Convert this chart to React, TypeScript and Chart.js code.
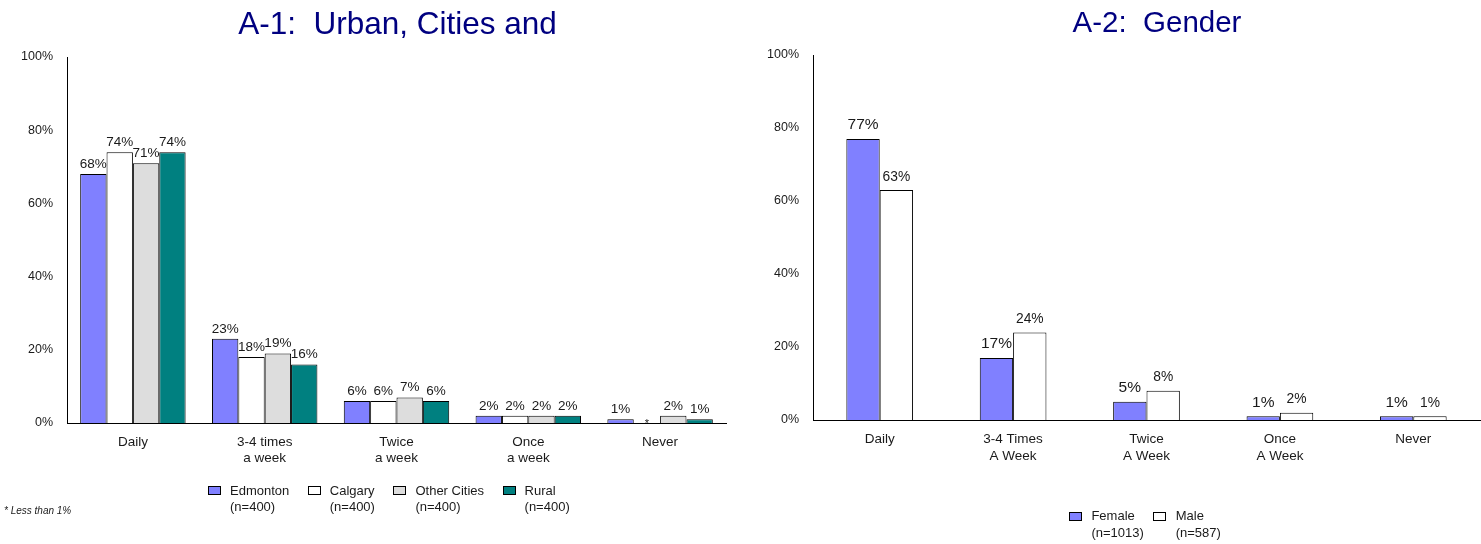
import React, { useEffect, useRef } from 'react';
import { Chart, registerables } from 'chart.js';

Chart.register(...registerables);

const FONT = '"Liberation Sans", Arial, Helvetica, sans-serif';
const TEXT = '#1a1a1a';

// ---------- A-1 data ----------
const A1_TITLE = 'A-1:  Urban, Cities and';
const A1_CATEGORIES = [['Daily'], ['3-4 times', 'a week'], ['Twice', 'a week'], ['Once', 'a week'], ['Never']];
const A1_SERIES = ['Edmonton', 'Calgary', 'Other Cities', 'Rural'];
const A1_SAMPLES = ['(n=400)', '(n=400)', '(n=400)', '(n=400)'];
const EDMONTON = [68, 23, 6, 2, 1];
const CALGARY = [74, 18, 6, 2, 0];
const CALGARY_LABELS = ['74%', '18%', '6%', '2%', '*'];
const OTHER_CITIES = [71, 19, 7, 2, 2];
const RURAL = [74, 16, 6, 2, 1];
const A1_FOOTNOTE = '* Less than 1%';

// ---------- A-2 data ----------
const A2_TITLE = 'A-2:  Gender';
const A2_CATEGORIES = [['Daily'], ['3-4 Times', 'A Week'], ['Twice', 'A Week'], ['Once', 'A Week'], ['Never']];
const A2_SERIES = ['Female', 'Male'];
const A2_SAMPLES = ['(n=1013)', '(n=587)'];
const FEMALE = [77, 17, 5, 1, 1];
const MALE = [63, 24, 8, 2, 1];

const Y_MIN = 0;
const Y_MAX = 100;
const Y_STEP = 20;

const COLORS = {
  blue: '#8080FF',
  white: '#FFFFFF',
  gray: '#DDDDDD',
  teal: '#008080',
};

const fixedTitle = {
  id: 'fixedTitle',
  afterDraw(chart: any, _a: any, opts: any) {
    const ctx = chart.ctx;
    ctx.save();
    ctx.font = `${opts.size}px ${FONT}`;
    ctx.fillStyle = '#000080';
    ctx.textAlign = 'center';
    ctx.textBaseline = 'alphabetic';
    ctx.fillText(opts.text, opts.x, opts.y);
    ctx.restore();
  },
};

const valueLabels = {
  id: 'valueLabels',
  afterDatasetsDraw(chart: any) {
    const ctx = chart.ctx;
    chart.data.datasets.forEach((ds: any, i: number) => {
      const meta = chart.getDatasetMeta(i);
      if (meta.hidden) return;
      meta.data.forEach((bar: any, j: number) => {
        const text = ds.valueLabels ? ds.valueLabels[j] : `${ds.data[j]}%`;
        ctx.save();
        ctx.fillStyle = TEXT;
        ctx.textAlign = 'center';
        ctx.textBaseline = 'alphabetic';
        if (text === '*') {
          ctx.font = `11px ${FONT}`;
          ctx.fillText(text, bar.x, bar.y + 4);
        } else {
          ctx.font = `${ds.labelSize}px ${FONT}`;
          ctx.fillText(text, bar.x, bar.y - ds.labelGap);
        }
        ctx.restore();
      });
    });
  },
};

const boxLegend = {
  id: 'boxLegend',
  afterDraw(chart: any, _a: any, opts: any) {
    const ctx = chart.ctx;
    ctx.save();
    ctx.font = `13px ${FONT}`;
    let x = opts.x;
    chart.data.datasets.forEach((ds: any) => {
      ctx.fillStyle = ds.backgroundColor;
      ctx.fillRect(Math.round(x) + 0.5, opts.boxY + 0.5, 12, 8);
      ctx.strokeStyle = '#000';
      ctx.lineWidth = 1;
      ctx.strokeRect(Math.round(x) + 0.5, opts.boxY + 0.5, 12, 8);
      ctx.fillStyle = TEXT;
      ctx.textAlign = 'left';
      ctx.textBaseline = 'middle';
      const lines = [ds.label, ds.sample];
      lines.forEach((t: string, k: number) => ctx.fillText(t, x + opts.textOffset, opts.lineY[k]));
      const w = Math.max(...lines.map((t: string) => ctx.measureText(t).width));
      x += opts.textOffset + w + opts.gap;
    });
    if (opts.footnote) {
      ctx.font = `italic 10px ${FONT}`;
      ctx.textAlign = 'left';
      ctx.textBaseline = 'alphabetic';
      ctx.fillText(opts.footnote, 4, 514);
    }
    ctx.restore();
  },
};

function makeOptions(p: any) {
  return {
    responsive: false,
    animation: false,
    devicePixelRatio: 1,
    layout: { padding: { left: 0, top: p.top, right: p.right, bottom: 0 } },
    plugins: {
      legend: { display: false },
      title: { display: false },
      tooltip: { enabled: false },
      fixedTitle: p.title,
      boxLegend: p.legend,
    },
    scales: {
      x: {
        grid: { display: false, drawTicks: false },
        border: { display: true, color: '#000', width: 1 },
        ticks: {
          color: TEXT,
          font: { family: FONT, size: 13.5, lineHeight: p.xLineHeight },
          padding: p.xPad,
          maxRotation: 0,
          autoSkip: false,
        },
        afterFit: (s: any) => { s.height = p.xHeight; },
      },
      y: {
        min: Y_MIN,
        max: Y_MAX,
        grid: { display: false, drawTicks: false },
        border: { display: true, color: '#000', width: 1 },
        ticks: {
          stepSize: Y_STEP,
          color: TEXT,
          font: { family: FONT, size: 12.5 },
          padding: 14,
          callback: (v: any) => `${v}%`,
        },
        afterFit: (s: any) => { s.width = p.yWidth; },
      },
    },
  };
}

function ChartCanvas({ config, width, left }: { config: any; width: number; left: number }) {
  const ref = useRef<HTMLCanvasElement | null>(null);
  useEffect(() => {
    if (!ref.current) return;
    const chart = new Chart(ref.current, config);
    return () => chart.destroy();
  }, []);
  return (
    <canvas
      ref={ref}
      width={width}
      height={544}
      style={{ position: 'absolute', left, top: 0, width, height: 544, display: 'block' }}
    />
  );
}

export default function App() {
  const bar = (label: string, sample: string, data: number[], color: string, size: number, gap: number, extra: any = {}) => ({
    label,
    sample,
    data,
    backgroundColor: color,
    borderColor: '#000',
    borderWidth: 1,
    borderSkipped: 'start',
    labelSize: size,
    labelGap: gap,
    ...extra,
  });

  const a1Colors = [COLORS.blue, COLORS.white, COLORS.gray, COLORS.teal];
  const a1Data = [EDMONTON, CALGARY, OTHER_CITIES, RURAL];
  const a1Config = {
    type: 'bar',
    data: {
      labels: A1_CATEGORIES,
      datasets: A1_SERIES.map((name, i) =>
        bar(name, A1_SAMPLES[i], a1Data[i], a1Colors[i], 13.5, 6, i === 1 ? { valueLabels: CALGARY_LABELS } : {})
      ).map((d: any) => ({ ...d, categoryPercentage: 0.8, barPercentage: 1 })),
    },
    options: makeOptions({
      top: 57,
      right: 14,
      yWidth: 67,
      xHeight: 544 - 423,
      xPad: 12,
      xLineHeight: 1.15,
      title: { text: A1_TITLE, x: 397.5, y: 34, size: 31.5 },
      legend: { x: 208, boxY: 486, textOffset: 22, gap: 18.5, lineY: [491, 507], footnote: A1_FOOTNOTE },
    }),
    plugins: [fixedTitle, valueLabels, boxLegend],
  };

  const a2Colors = [COLORS.blue, COLORS.white];
  const a2Data = [FEMALE, MALE];
  const a2Sizes = [15.5, 13.8];
  const a2Config = {
    type: 'bar',
    data: {
      labels: A2_CATEGORIES,
      datasets: A2_SERIES.map((name, i) => bar(name, A2_SAMPLES[i], a2Data[i], a2Colors[i], a2Sizes[i], 9.5))
        .map((d: any) => ({ ...d, categoryPercentage: 0.5, barPercentage: 1 })),
    },
    options: makeOptions({
      top: 55,
      right: 1,
      yWidth: 73,
      xHeight: 544 - 420,
      xPad: 10.5,
      xLineHeight: 1.26,
      title: { text: A2_TITLE, x: 417, y: 32, size: 29.5 },
      legend: { x: 329, boxY: 512, textOffset: 22.4, gap: 9.5, lineY: [516, 533] },
    }),
    plugins: [fixedTitle, valueLabels, boxLegend],
  };

  return (
    <div style={{ position: 'absolute', left: 0, top: 0, width: 1481, height: 544, background: '#fff' }}>
      <ChartCanvas config={a1Config} width={740} left={0} />
      <ChartCanvas config={a2Config} width={741} left={740} />
    </div>
  );
}
